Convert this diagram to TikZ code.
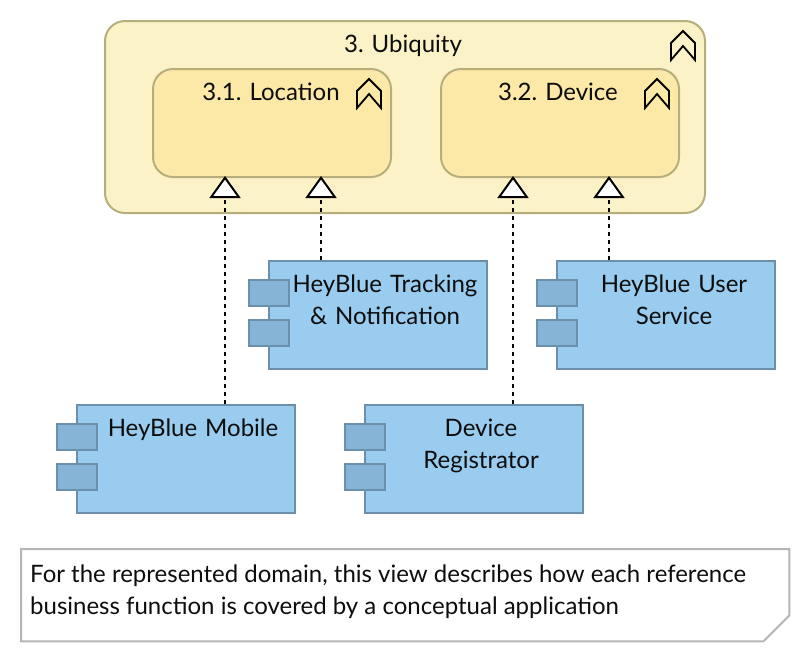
\documentclass[tikz,border=0pt]{standalone}
\usepackage{fontspec}
\setmainfont{Lato}
\usetikzlibrary{arrows.meta}
\definecolor{outerfill}{HTML}{FCF2C8}
\definecolor{innerfill}{HTML}{FCE9A8}
\definecolor{capstroke}{HTML}{B7AE7B}
\definecolor{appfill}{HTML}{99CCEE}
\definecolor{appstroke}{HTML}{6A90AB}
\definecolor{portfill}{HTML}{85B4D6}
\definecolor{notestroke}{HTML}{B5B5B5}
\tikzset{
  x=1pt,y=-1pt,
  every node/.style={font=\fontsize{24}{32}\selectfont\frenchspacing,text=black!95},
  capouter/.style={draw=capstroke,line width=2pt,fill=outerfill,rounded corners=20pt,minimum width=600pt,minimum height=192pt,inner sep=0pt},
  capinner/.style={draw=capstroke,line width=2pt,fill=innerfill,rounded corners=20pt,minimum width=238pt,minimum height=108pt,inner sep=0pt},
  appbox/.style={draw=appstroke,line width=2pt,fill=appfill,minimum width=218pt,minimum height=108pt,inner sep=0pt},
  portbox/.style={draw=appstroke,line width=2pt,fill=portfill,minimum width=40pt,minimum height=26pt,inner sep=0pt},
  boxtext/.style={anchor=north,align=center,inner sep=0pt,text width=200pt},
  chevron/.pic={\draw[black,line width=1.8pt,miter limit=4] (-12,29) -- (-12,12) -- (0,0) -- (12,12) -- (12,29) -- (0,15) -- cycle;},
  realize/.style={line width=2pt,black,dash pattern=on 4pt off 4pt,-{Triangle[open,fill=white,length=22pt,width=31pt]}},
}
\newcommand{\appnode}[3]{%
  \node[appbox] (#1) at (#2,#3) {};
  \node[portbox] (#1p1) at ([xshift=-109pt,yshift=-33pt]#1.north) {};
  \node[portbox] (#1p2) at ([xshift=-109pt,yshift=-73pt]#1.north) {};
}
\begin{document}
\begin{tikzpicture}
\useasboundingbox (0,0) rectangle (810,662);
% capabilities
\node[capouter] (ubiq) at (405,117) {};
\node[capinner] (loc) at (272,123) {};
\node[capinner] (dev) at (560,123) {};
\node[boxtext] (ubiqt) at (403,35) {3. Ubiquity};
\node[boxtext] (loct) at (271,83) {3.1. Location};
\node[boxtext] (devt) at (558,83) {3.2. Device};
\pic at (683,31) {chevron};
\pic at (369,79) {chevron};
\pic at (657,79) {chevron};
% applications
\appnode{track}{378}{315}
\appnode{user}{666}{315}
\appnode{mobile}{186}{459}
\appnode{reg}{474}{459}
\node[boxtext] (trackt) at (385,275) {HeyBlue Tracking\\\& Notification};
\node[boxtext] (usert) at (674,275) {HeyBlue User\\Service};
\node[boxtext] (mobilet) at (193,419) {HeyBlue Mobile};
\node[boxtext] (regt) at (481,419) {Device\\Registrator};
% connectors
\draw[realize] ([xshift=39pt]mobile.north) -- ([xshift=-47pt,yshift=2pt]loc.south);
\draw[realize] ([xshift=-57pt]track.north) -- ([xshift=49pt,yshift=2pt]loc.south);
\draw[realize] ([xshift=39pt]reg.north) -- ([xshift=-47pt,yshift=2pt]dev.south);
\draw[realize] ([xshift=-57pt]user.north) -- ([xshift=49pt,yshift=2pt]dev.south);
% note
\node[anchor=north west,minimum width=768pt,minimum height=92pt,inner sep=0pt] (note) at (21,549) {};
\draw[notestroke,line width=2pt] (note.north west) -- (note.north east) -- ([yshift=26pt]note.south east) -- ([xshift=-26pt]note.south east) -- (note.south west) -- cycle;
\node[anchor=north west,inner sep=0pt,align=left] (notet) at (30,565) {For the represented domain, this view describes how each reference\\business function is covered by a conceptual application};
\end{tikzpicture}
\end{document}
